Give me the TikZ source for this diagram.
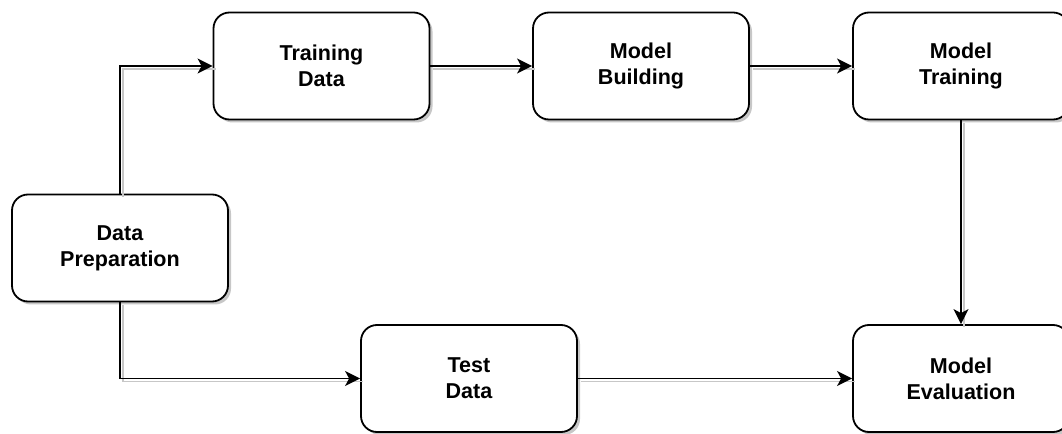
\documentclass[tikz,border=0pt]{standalone}
\usepackage{fontspec}
\setmainfont{Liberation Sans}
\usetikzlibrary{arrows.meta,shadows}

\begin{document}
\begin{tikzpicture}[x=1bp,y=-1bp,
  stage/.style={draw=black, line width=1.8bp, rounded corners=16bp, fill=white,
    minimum width=216bp, minimum height=107bp, inner sep=0pt, align=center,
    font=\bfseries\fontsize{21.6}{26}\selectfont,
    drop shadow={shadow xshift=3bp, shadow yshift=-3bp, fill=black, opacity=0.22}},
  flow/.style={line width=1.8bp, -{Stealth[length=15bp,width=15bp,inset=4bp]},
    preaction={draw=black!22, line width=1.8bp, -, transform canvas={shift={(3bp,-3bp)}}}}
]
\useasboundingbox (0,0) rectangle (1062,434);

% process stages
\node[stage] (prep)  at (120,248)   {Data\\Preparation};
\node[stage] (tdata) at (321.5,66)  {Training\\Data};
\node[stage] (build) at (641,66)    {Model\\Building};
\node[stage] (train) at (961,66)    {Model\\Training};
\node[stage] (test)  at (469,378.5) {Test\\Data};
\node[stage] (eval)  at (961,378.5) {Model\\Evaluation};

% connectors
\draw[flow] (prep.north) |- (tdata.west);
\draw[flow] (prep.south) |- (test.west);
\draw[flow] (tdata) -- (build);
\draw[flow] (build) -- (train);
\draw[flow] (train) -- (eval);
\draw[flow] (test) -- (eval);
\end{tikzpicture}
\end{document}
